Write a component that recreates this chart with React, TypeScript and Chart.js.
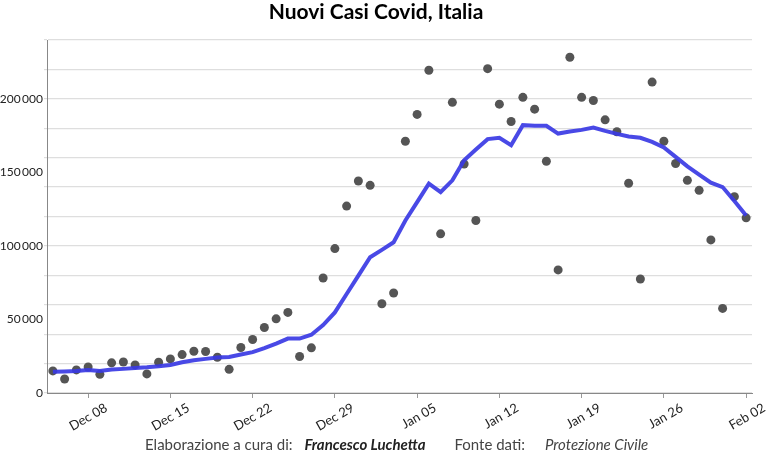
import React, { useEffect, useRef } from 'react';
import { Chart, registerables } from 'chart.js';

Chart.register(...registerables);

const categories = [
  'Dec 05', 'Dec 06', 'Dec 07', 'Dec 08', 'Dec 09', 'Dec 10', 'Dec 11', 'Dec 12', 'Dec 13', 'Dec 14',
  'Dec 15', 'Dec 16', 'Dec 17', 'Dec 18', 'Dec 19', 'Dec 20', 'Dec 21', 'Dec 22', 'Dec 23', 'Dec 24',
  'Dec 25', 'Dec 26', 'Dec 27', 'Dec 28', 'Dec 29', 'Dec 30', 'Dec 31', 'Jan 01', 'Jan 02', 'Jan 03',
  'Jan 04', 'Jan 05', 'Jan 06', 'Jan 07', 'Jan 08', 'Jan 09', 'Jan 10', 'Jan 11', 'Jan 12', 'Jan 13',
  'Jan 14', 'Jan 15', 'Jan 16', 'Jan 17', 'Jan 18', 'Jan 19', 'Jan 20', 'Jan 21', 'Jan 22', 'Jan 23',
  'Jan 24', 'Jan 25', 'Jan 26', 'Jan 27', 'Jan 28', 'Jan 29', 'Jan 30', 'Jan 31', 'Feb 01', 'Feb 02',
];

const dailyCases = [
  15000, 9500, 15700, 17700, 12700, 20500, 21100, 19100, 13000, 20900,
  23200, 26100, 28400, 28200, 24300, 16100, 30900, 36400, 44500, 50400,
  54800, 24800, 30700, 78200, 98200, 127100, 144100, 141200, 60700, 68000,
  171200, 189400, 219400, 108200, 197600, 155700, 117300, 220500, 196400, 184600,
  201000, 193000, 157600, 83700, 228300, 201000, 198900, 185700, 177600, 142600,
  77500, 211400, 171200, 156000, 144600, 137800, 104100, 57500, 133500, 119100,
];

const movingAverage = [
  14500, 14700, 15000, 15700, 15000, 15900, 16400, 17000, 17500, 18200,
  19100, 20900, 22300, 23200, 24100, 24500, 26200, 27800, 30500, 33600,
  37000, 37000, 39600, 46200, 54800, 67300, 79800, 92300, 97300, 102500,
  117300, 129800, 142300, 136600, 144600, 158200, 165500, 172600, 173500, 168500,
  182100, 181700, 181700, 176400, 177800, 178900, 180500, 178200, 176200, 174400,
  173500, 170700, 166900, 160500, 154100, 148500, 143000, 140000, 130500, 120700,
];

const tickDays = ['Dec 08', 'Dec 15', 'Dec 22', 'Dec 29', 'Jan 05', 'Jan 12', 'Jan 19', 'Jan 26', 'Feb 02'];

const fmt = (v: number) => {
  const s = String(Math.round(v));
  return s.replace(/\B(?=(\d{3})+(?!\d))/g, '\u2009');
};

export default function App() {
  const ref = useRef<HTMLCanvasElement>(null);

  useEffect(() => {
    document.body.style.margin = '0';
    const chart = new Chart(ref.current!, {
      type: 'line',
      data: {
        labels: categories,
        datasets: [
          {
            label: 'Media mobile 7 giorni',
            data: movingAverage,
            borderColor: 'rgba(58,58,228,0.92)',
            borderWidth: 4,
            pointRadius: 0,
            tension: 0,
            fill: false,
            order: 0,
          },
          {
            label: 'Nuovi casi',
            data: dailyCases,
            showLine: false,
            pointRadius: 4.5,
            pointBackgroundColor: '#555555',
            pointBorderWidth: 0,
            order: 1,
          },
        ],
      },
      options: {
        animation: false,
        responsive: true,
        maintainAspectRatio: false,
        layout: { padding: { left: 0, right: 15, top: 0, bottom: 0 } },
        plugins: {
          legend: { display: false },
          tooltip: { enabled: false },
          title: {
            display: true,
            text: 'Nuovi Casi Covid, Italia',
            color: '#000',
            font: { family: 'Lato', size: 21, weight: 'bold', lineHeight: 1.2 },
            padding: { top: 0, bottom: 14.8 },
          },
        },
        scales: {
          x: {
            type: 'category',
            offset: true,
            grid: { drawOnChartArea: false, tickLength: 5, color: '#999' },
            border: { color: '#888' },
            ticks: {
              autoSkip: false,
              minRotation: 30,
              maxRotation: 30,
              color: '#222',
              font: { family: 'Lato', size: 13 },
              padding: 2,
              labelOffset: 18,
              callback: (_v: any, idx: number) => {
                const l = categories[idx];
                return tickDays.includes(l) ? l : null;
              },
            },
            afterFit: (s: any) => {
              s.height = 60;
            },
          },
          y: {
            min: 0,
            max: 240000,
            ticks: {
              stepSize: 10000,
              autoSkip: false,
              color: '#222',
              font: { family: 'Lato', size: 12 },
              padding: 1,
              callback: (v: any) => (Number(v) % 50000 === 0 ? fmt(Number(v)) : ''),
            },
            grid: {
              color: (ctx: any) =>
                ctx.tick && ctx.tick.value % 20000 === 0 ? '#dedede' : 'rgba(0,0,0,0)',
              tickLength: 3,
              lineWidth: 1.2,
            },
            border: { color: '#888' },
            afterFit: (s: any) => {
              s.width = 47;
            },
          },
        },
      },
    });
    return () => chart.destroy();
  }, []);

  return (
    <div style={{ position: 'relative', width: 767, height: 453, background: '#fff' }}>
      <canvas ref={ref} />
      <div
        style={{
          position: 'absolute',
          left: 145,
          top: 435,
          whiteSpace: 'nowrap',
          fontFamily: 'Lato',
          fontSize: 15,
          lineHeight: '18px',
          color: '#444',
        }}
      >
        <span>Elaborazione a cura di:</span>
        <span style={{ marginLeft: 12, fontWeight: 'bold', fontStyle: 'italic', color: '#222' }}>Francesco Luchetta</span>
        <span style={{ marginLeft: 29 }}>Fonte dati:</span>
        <span style={{ marginLeft: 20, fontStyle: 'italic' }}>Protezione Civile</span>
      </div>
    </div>
  );
}
